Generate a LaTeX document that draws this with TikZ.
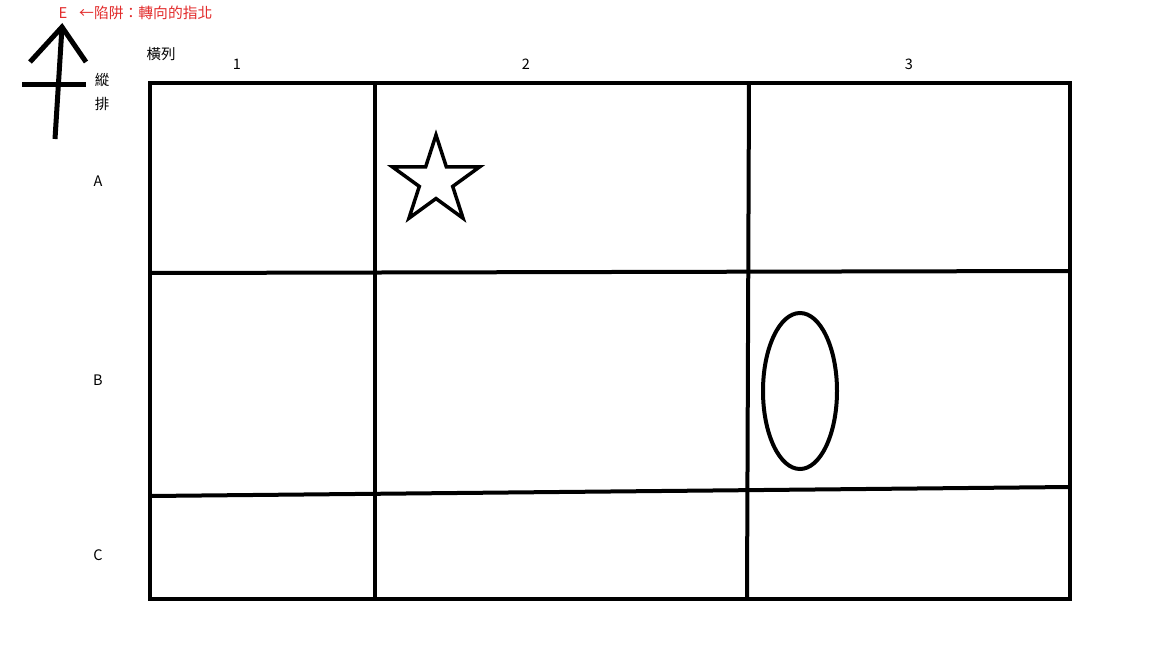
\documentclass[tikz,border=0pt]{standalone}
\usepackage{fontspec}
\setmainfont{Noto Sans CJK TC}
\usepackage{xcolor}
\usetikzlibrary{shapes.geometric}
\definecolor{trapred}{RGB}{226,44,44}

\tikzset{
	gridline/.style = {line width = 4pt, black},
	penline/.style = {line width = 5pt, black},
	lbl/.style = {font = \fontsize{14.5}{17}\selectfont, text = black, inner sep = 0pt},
	trap/.style = {font = \fontsize{14.8}{17}\selectfont, text = trapred, inner sep = 0pt}
}

\begin{document}
\begin{tikzpicture}[x = 1pt, y = -1pt]
	
	\useasboundingbox (0,0) rectangle (1152,648);
	
	% compass
	\coordinate (ntop) at (62,27);
	\coordinate (nbot) at (55,139);
	\coordinate (hl) at (30,62);
	\coordinate (hr) at (86,62);
	\coordinate (cl) at (22,84);
	\coordinate (cr) at (86,84);
	\draw[penline] (ntop) to (nbot);
	\draw[penline, line join = miter] (hl) -- (ntop) -- (hr);
	\draw[penline] (cl) to (cr);
	
	\node[trap] (east) at (63,13) {E};
	\node[trap, anchor = west] (note) at (79,13) {←陷阱：轉向的指北};
	
	\node[lbl] (rowhead) at (161,54) {橫列};
	\node[lbl] (colhead1) at (102,80) {縱};
	\node[lbl] (colhead2) at (102,104) {排};
	
	% column numbers
	\node[lbl] (c1) at (237,64) {1};
	\node[lbl] (c2) at (526,64) {2};
	\node[lbl] (c3) at (909,64) {3};
	
	% row letters
	\node[lbl] (ra) at (98,181) {A};
	\node[lbl] (rb) at (98,380) {B};
	\node[lbl] (rc) at (98,555) {C};
	
	% grid
	\draw[gridline] (150,83) rectangle (1070,599);
	\draw[gridline] (375,83) to (375,599);
	\draw[gridline] (749,83) to (747,599);
	\draw[gridline] (150,273) to (1070,271);
	\draw[gridline] (150,496) to (1070,487);
	
	% marks
	\node[star, star points = 5, star point ratio = 2.62,
	draw = black,
	line width = 3.5pt,
	minimum size = 92pt,
	inner sep = 0pt] (mark) at (436,181) {};
	
	\draw[gridline] (800,391) ellipse [x radius = 37, y radius = 78];
	
\end{tikzpicture}
\end{document}
